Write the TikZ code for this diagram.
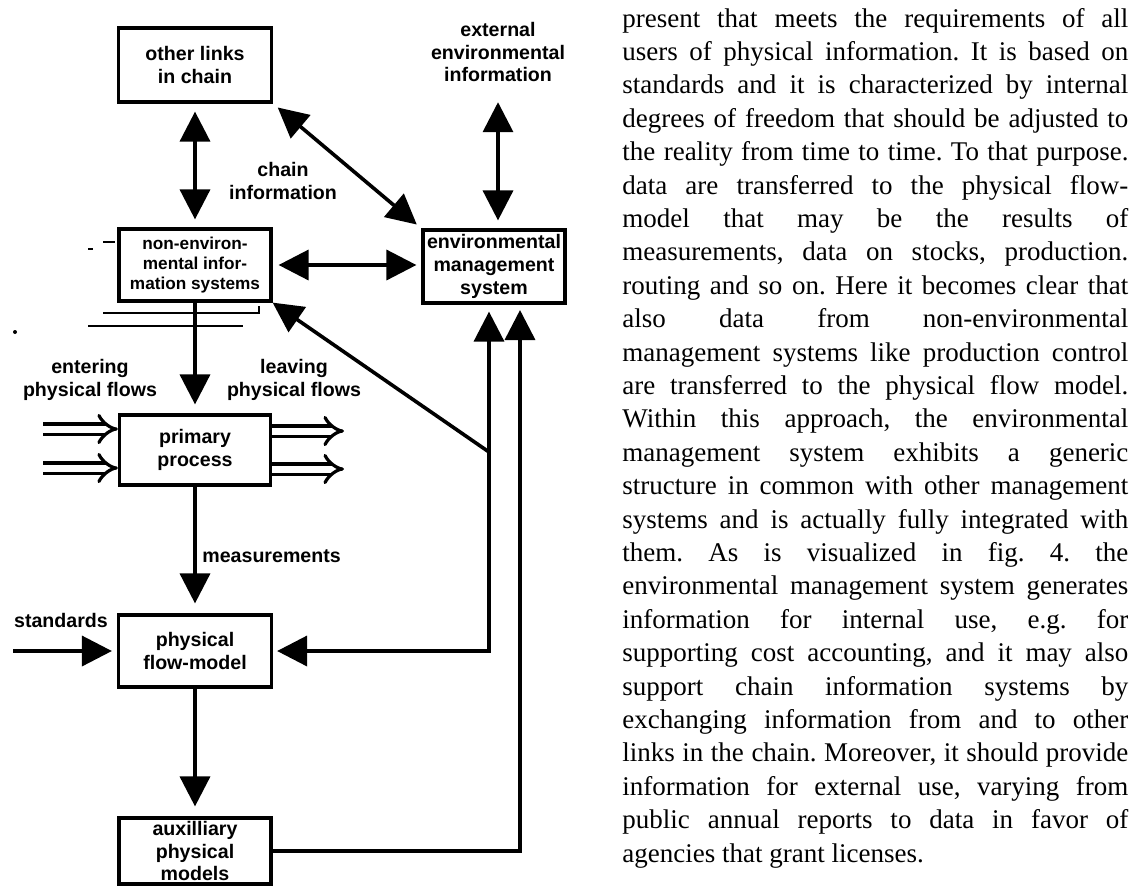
\documentclass[tikz,border=0pt]{standalone}
\usepackage{fontspec}
\setmainfont{Liberation Serif}
\newfontfamily\arialfont{Liberation Sans}
\usetikzlibrary{arrows.meta,positioning,calc}
\frenchspacing

\newcommand{\bodyline}[1]{\makebox[253pt][s]{#1}}

\tikzset{
  box/.style={draw, line width=1.6pt, inner sep=0pt, align=center,
    font=\arialfont\bfseries\fontsize{9.8}{11.3}\selectfont},
  lbl/.style={inner sep=0pt, align=center,
    font=\arialfont\bfseries\fontsize{9.8}{11.3}\selectfont},
  flow/.style={line width=1.8pt, -{Triangle[width=15pt,length=15pt]}},
  twoway/.style={line width=1.8pt,
    {Triangle[width=15pt,length=15pt]}-{Triangle[width=15pt,length=15pt]}},
  stream/.style={double, double distance=3.5pt, line width=1.6pt, -{Implies[length=7pt,width=15pt]}},
  scan/.style={line width=0.6pt},
}

\begin{document}
\begin{tikzpicture}[x = 0.5pt, y = -0.5pt]
\useasboundingbox (0,0) rectangle (1143,885);

\node[box, minimum width=76.5pt, minimum height=37pt] (links) at (195,65) {other links\\in chain};
\node[box, minimum width=76pt, minimum height=36pt, font=\arialfont\bfseries\fontsize{8.6}{10}\selectfont] (nonenv) at (195,265) {non-environ-\\mental infor-\\mation systems};
\node[box, minimum width=71pt, minimum height=36.5pt] (ems) at (494,266.5) {environmental\\management\\system};
\node[box, minimum width=75.5pt, minimum height=35pt] (primary) at (195,450) {primary\\process};
\node[box, minimum width=76.5pt, minimum height=36pt] (flowmodel) at (195,651) {physical\\flow-model};
\node[box, minimum width=76pt, minimum height=33pt] (aux) at (195,851) {auxilliary\\physical\\models};

\node[lbl] (ext) at (498,52) {external\\environmental\\information};
\node[lbl] (chain) at (283,181) {chain\\information};
\node[lbl] (enter) at (90,380) {entering\\physical flows};
\node[lbl] (leave) at (294,380) {leaving\\physical flows};
\node[lbl, anchor=west] (meas) at (202,556) {measurements};
\node[lbl] (std) at (61,620) {standards};

\coordinate (stdin) at (13,651);
\coordinate (in1) at (43,429);
\coordinate (in2) at (43,468);
\coordinate (out1) at (344,431);
\coordinate (out2) at (344,469);
\coordinate (tap) at (489,452);
\coordinate (auxup) at (520,303);

\draw[twoway, shorten <=4pt, shorten >=4pt] (links) -- (nonenv);
\draw[twoway, shorten <=3pt, shorten >=3pt] (links.south east) -- (ems.north west);
\draw[twoway, shorten <=10pt, shorten >=4pt] (ext.south) -- (ext.south |- ems.north);
\draw[twoway, shorten <=3pt, shorten >=2.5pt] (nonenv.east) -- (nonenv.east -| ems.west);
\draw[flow, shorten >=4.5pt] (nonenv) -- (primary);
\draw[flow, shorten >=5pt] (primary) -- (flowmodel);
\draw[flow, shorten >=5pt] (flowmodel) -- (aux);
\draw[flow, shorten >=2.5pt] (stdin) -- (flowmodel.west);
\draw[twoway, shorten <=3.5pt, shorten >=2pt] (tap |- ems.south) |- (flowmodel.east);
\draw[flow] (tap) -- (nonenv.south east);
\draw[flow, shorten >=3.5pt] (aux.east) -| (auxup);

\draw[stream] (in1) -- (in1 -| primary.west);
\draw[stream] (in2) -- (in2 -| primary.west);
\draw[stream] (out1 -| primary.east) -- (out1);
\draw[stream] (out2 -| primary.east) -- (out2);

% scan marks
\draw[scan] (103,313) -- (259,313) -- (259,306);
\draw[scan] (88,326) -- (243,326);
\draw[scan] (103,242) -- (115,242);
\draw[line width=1pt] (88,249) -- (93,249);
\fill (15,332) circle[radius=1pt];

\node[anchor=base west, inner sep=0pt, align=left, font=\fontsize{13.5}{16.7}\selectfont] (body) at (622,862) {%
\bodyline{present that meets the requirements of all}\\
\bodyline{users of physical information. It is based on}\\
\bodyline{standards and it is characterized by internal}\\
\bodyline{degrees of freedom that should be adjusted to}\\
\bodyline{the reality from time to time. To that purpose.}\\
\bodyline{data are transferred to the physical flow-}\\
\bodyline{model that may be the results of}\\
\bodyline{measurements, data on stocks, production.}\\
\bodyline{routing and so on. Here it becomes clear that}\\
\bodyline{also data from non-environmental}\\
\bodyline{management systems like production control}\\
\bodyline{are transferred to the physical flow model.}\\
\bodyline{Within this approach, the environmental}\\
\bodyline{management system exhibits a generic}\\
\bodyline{structure in common with other management}\\
\bodyline{systems and is actually fully integrated with}\\
\bodyline{them. As is visualized in fig. 4. the}\\
\bodyline{environmental management system generates}\\
\bodyline{information for internal use, e.g. for}\\
\bodyline{supporting cost accounting, and it may also}\\
\bodyline{support chain information systems by}\\
\bodyline{exchanging information from and to other}\\
\bodyline{links in the chain. Moreover, it should provide}\\
\bodyline{information for external use, varying from}\\
\bodyline{public annual reports to data in favor of}\\
agencies that grant licenses.};

\end{tikzpicture}
\end{document}
